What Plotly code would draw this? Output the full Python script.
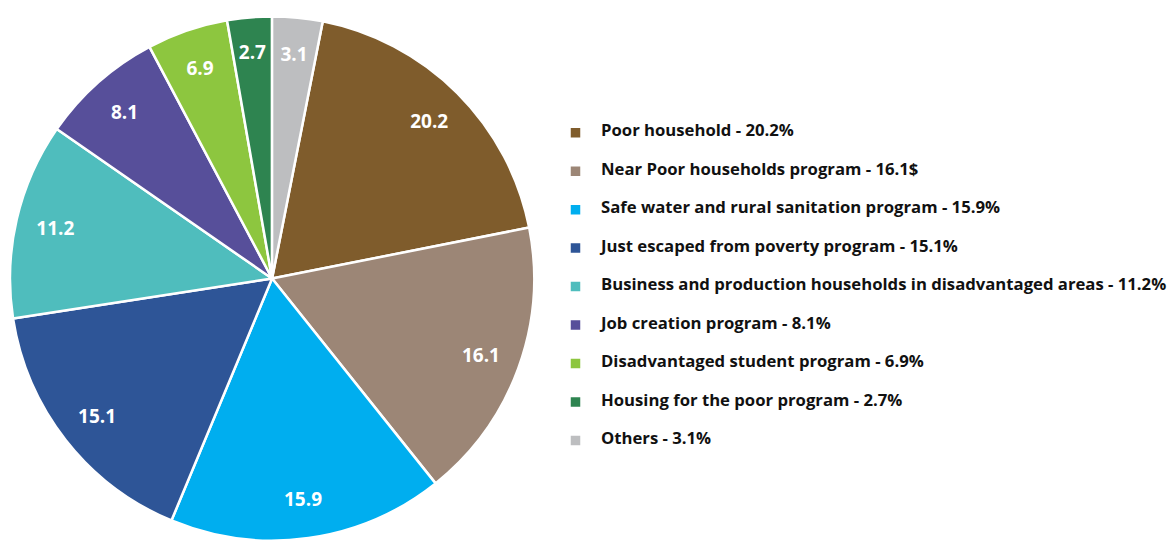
import plotly.graph_objects as go

categories = [
    "Poor household",
    "Near Poor households program",
    "Safe water and rural sanitation program",
    "Just escaped from poverty program",
    "Business and production households in disadvantaged areas",
    "Job creation program",
    "Disadvantaged student program",
    "Housing for the poor program",
    "Others",
]
# printed values (slice labels)
values = [20.2, 16.1, 15.9, 15.1, 11.2, 8.1, 6.9, 2.7, 3.1]
# slice sizes as actually drawn in the picture (percent of the circle)
drawn_share = [18.8, 17.4, 17.0, 16.3, 12.1, 7.6, 5.0, 2.75, 3.1]
legend_suffix = ["20.2%", "16.1$", "15.9%", "15.1%", "11.2%", "8.1%", "6.9%", "2.7%", "3.1%"]
colors = ["#7F5C2C", "#9C8676", "#00AEEF", "#2E5597", "#4FBDBD",
          "#574F9A", "#8DC63F", "#2E8450", "#BDBEC0"]

FONT = "Open Sans"
W, H = 1172, 542

# legend entries: label line framed by two blank lines to widen the row pitch
labels = ["\u00a0<br><span style='font-size:16.7px'>%s - %s</span><br>\u00a0" % (c, s)
          for c, s in zip(categories, legend_suffix)]
slice_text = ["%g" % v for v in values]

total = sum(drawn_share)
rotation = drawn_share[-1] / total * 360

cx, cy, R = 273, 278.5, 263
main_domain = dict(x=[(cx - R) / W, (cx + R) / W], y=[(H - cy - R) / H, (H - cy + R) / H])
R2 = 248
text_domain = dict(x=[(cx - R2) / W, (cx + R2) / W], y=[(H - cy - R2) / H, (H - cy + R2) / H])

fig = go.Figure()
fig.add_trace(go.Pie(
    labels=labels,
    values=drawn_share,
    sort=False,
    direction="clockwise",
    rotation=rotation,
    marker=dict(colors=colors, line=dict(color="white", width=2.5)),
    textinfo="none",
    domain=main_domain,
    hoverinfo="skip",
))
# transparent ring that carries the value labels near the rim
fig.add_trace(go.Pie(
    labels=labels,
    values=drawn_share,
    text=slice_text,
    sort=False,
    direction="clockwise",
    rotation=rotation,
    hole=0.80,
    marker=dict(colors=["rgba(0,0,0,0)"] * len(values), line=dict(width=0)),
    textinfo="text",
    textposition="inside",
    insidetextorientation="horizontal",
    insidetextfont=dict(family=FONT, size=19, color="white", weight="bold"),
    showlegend=False,
    domain=text_domain,
    hoverinfo="skip",
))

fig.update_layout(
    width=W,
    height=H,
    margin=dict(l=0, r=0, t=0, b=0),
    paper_bgcolor="white",
    plot_bgcolor="white",
    showlegend=True,
    legend=dict(
        x=0.471, y=0.80, xanchor="left", yanchor="top",
        font=dict(family=FONT, size=9.1, color="#111111", weight="bold"),
        bgcolor="rgba(0,0,0,0)",
        traceorder="normal",
        itemwidth=41,
    ),
)

fig.write_html("out.html")
